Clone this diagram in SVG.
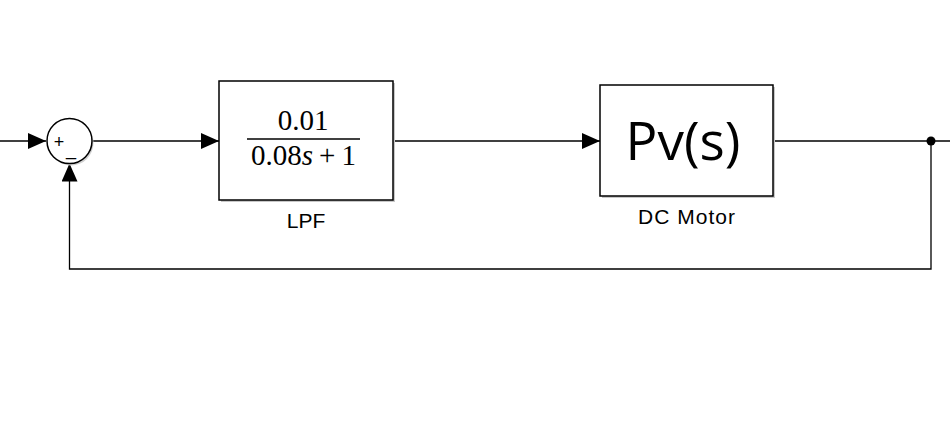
<svg xmlns="http://www.w3.org/2000/svg" width="950" height="446" viewBox="0 0 950 446">
<style>
.ln{fill:none;stroke:#000;stroke-width:1.3}
.blk{fill:#fff;stroke:#000;stroke-width:1.5}
.shd{fill:#c8c8c8}
.lbl{font-family:"Liberation Sans",Arial,sans-serif;font-size:21px;fill:#000;text-anchor:middle}
.math{font-family:"Liberation Serif","Times New Roman",serif;font-size:29px;fill:#000;text-anchor:middle}
.sgn{font-family:"Liberation Sans",Arial,sans-serif;font-size:18px;fill:#000;text-anchor:middle}
</style>
<defs>
<marker id="ah" markerWidth="18" markerHeight="16" refX="18" refY="8" orient="auto" markerUnits="userSpaceOnUse">
<path d="M0,0 L18,8 L0,16 Z" fill="#000"/>
</marker>
</defs>
<rect width="950" height="446" fill="#fff"/>
<g id="connectors">
<path class="ln" d="M0,141 H46" marker-end="url(#ah)"/>
<path class="ln" d="M92,141 H219" marker-end="url(#ah)"/>
<path class="ln" d="M393,141 H600" marker-end="url(#ah)"/>
<path class="ln" d="M773,141 H950"/>
<path class="ln" d="M931,141 V269 H69.5 V163.5" marker-end="url(#ah)"/>
<circle cx="931" cy="141" r="4.5" fill="#000"/>
</g>
<g id="sum">
<circle cx="71" cy="143" r="22.5" fill="#d0d0d0"/>
<circle class="blk" cx="69.5" cy="141" r="22.5"/>
<text class="sgn" x="59" y="148">+</text>
<text class="sgn" x="71" y="155">_</text>
</g>
<g id="lpf">
<rect class="shd" x="221" y="83" width="174" height="119"/>
<rect class="blk" x="219" y="81" width="174" height="119"/>
<text class="math" x="303" y="130">0.01</text>
<line x1="247" y1="139" x2="360" y2="139" stroke="#000" stroke-width="1.6"/>
<text class="math" x="303.5" y="165">0.08<tspan font-style="italic">s</tspan><tspan dx="6">+</tspan><tspan dx="6">1</tspan></text>
<text class="lbl" x="306" y="228">LPF</text>
</g>
<g id="motor">
<rect class="shd" x="602" y="87" width="173" height="111"/>
<rect class="blk" x="600" y="85" width="173" height="111"/>
<text x="683" y="160" font-family="'Open Sans','Noto Sans',sans-serif" font-size="53" text-anchor="middle" fill="#000">Pv(s)</text>
<text class="lbl" x="687" y="224" letter-spacing="1">DC Motor</text>
</g>
</svg>
